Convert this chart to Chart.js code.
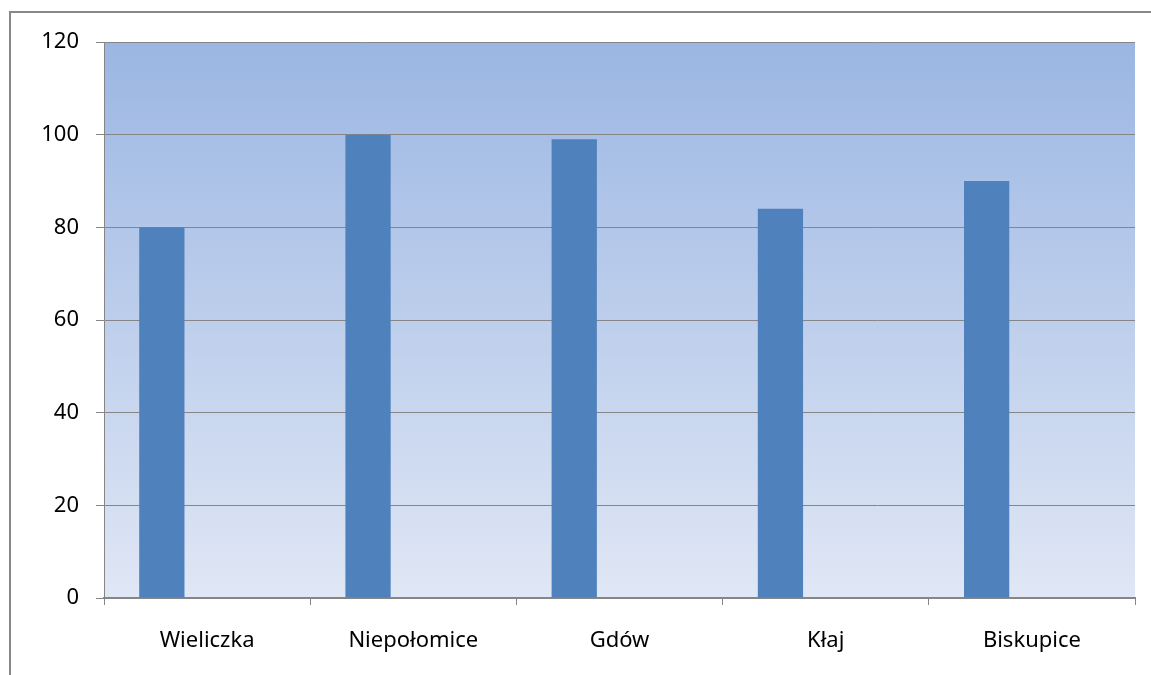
<!DOCTYPE html>
<html>
<head>
<meta charset="utf-8">
<script src="https://cdn.jsdelivr.net/npm/chart.js@4"></script>
<style>
  body { margin: 0; background: #fff; }
  #wrap { width: 1151px; height: 675px; }
</style>
</head>
<body>
<div id="wrap"><canvas id="chart"></canvas></div>
<script>
// data
const categories = ['Wieliczka', 'Niepołomice', 'Gdów', 'Kłaj', 'Biskupice'];
const values = [80, 100, 99, 84, 90];
const emptySeries = [null, null, null, null, null]; // second (empty) series keeps bars to the left
const yTicks = [0, 20, 40, 60, 80, 100, 120];

const gray = '#868686';
const font = { family: 'Noto Sans', size: 22 };

// white page + frame + gradient plot area
const backdrop = {
    id: 'backdrop',
    beforeDraw(chart) {
        const ctx = chart.ctx;
        const a = chart.chartArea;
        ctx.save();
        ctx.fillStyle = '#fff';
        ctx.fillRect(0, 0, chart.width, chart.height);
        ctx.strokeStyle = '#888';
        ctx.lineWidth = 2;
        ctx.beginPath();
        ctx.moveTo(10, chart.height);
        ctx.lineTo(10, 12);
        ctx.lineTo(chart.width, 12);
        ctx.stroke();
        const g = ctx.createLinearGradient(0, a.top, 0, a.bottom);
        g.addColorStop(0, '#9bb6e3');
        g.addColorStop(1, '#e0e7f5');
        ctx.fillStyle = g;
        ctx.fillRect(a.left, a.top, a.right - a.left, a.bottom - a.top);
        ctx.restore();
    }
};

new Chart(document.getElementById('chart'), {
    type: 'bar',
    data: {
        labels: categories,
        datasets: [
            { data: values, backgroundColor: '#4f81bd', borderWidth: 0 },
            { data: emptySeries, backgroundColor: '#c0504d', borderWidth: 0 }
        ]
    },
    options: {
        responsive: true,
        maintainAspectRatio: false,
        animation: false,
        devicePixelRatio: 1,
        categoryPercentage: 0.878,
        barPercentage: 0.5,
        layout: { padding: { top: 42, right: 16, left: 0, bottom: 0 } },
        plugins: { legend: { display: false }, tooltip: { enabled: false } },
        scales: {
            x: {
                grid: { offset: true, drawOnChartArea: false, color: gray, tickLength: 7 },
                border: { color: gray, width: 2 },
                ticks: { color: '#000', font: font, padding: 23, maxRotation: 0 },
                afterFit(s) { s.height = 77; }
            },
            y: {
                min: 0,
                max: 120,
                grid: { color: gray, tickLength: 8 },
                border: { color: gray, width: 1 },
                ticks: {
                    color: '#000', font: font, padding: 17,
                    stepSize: 20,
                    callback: (v) => yTicks.includes(v) ? v : ''
                },
                afterFit(s) { s.width = 104; }
            }
        }
    },
    plugins: [backdrop]
});
</script>
</body>
</html>
